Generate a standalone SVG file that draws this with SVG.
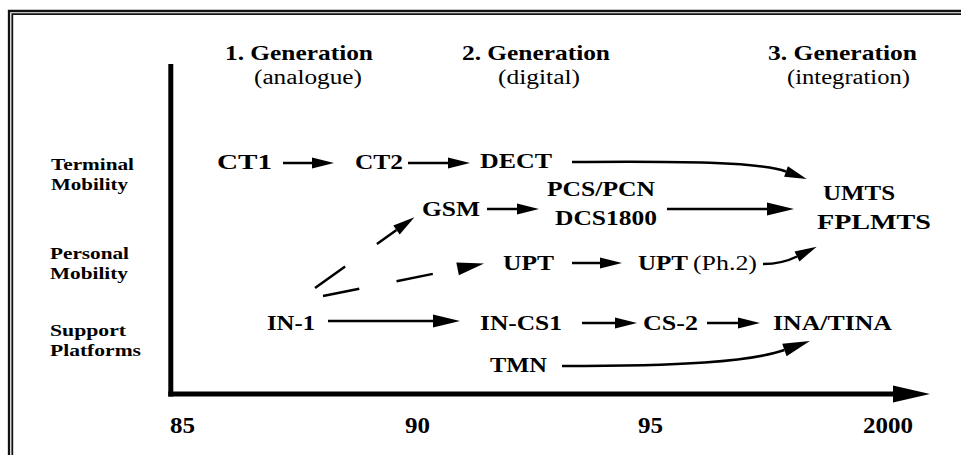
<svg xmlns="http://www.w3.org/2000/svg" width="961" height="455" viewBox="0 0 961 455">
<style>
text{fill:#000;font-family:"Liberation Serif","Times New Roman",serif}
.b{font-weight:bold}
.hd{font-size:22px}
.sub{font-size:20px}
.row{font-size:17.5px;font-weight:bold}
.n{font-size:22px;font-weight:bold}
.yr{font-size:24px;font-weight:bold}
.ln{fill:none;stroke:#000;stroke-width:2.5}
.ds{fill:none;stroke:#000;stroke-width:2.5}
.ax{fill:none;stroke:#000;stroke-width:5}
.fr{fill:none;stroke:#111}
</style>
<defs>
<marker id="a1" markerUnits="userSpaceOnUse" markerWidth="24" markerHeight="12" refX="0" refY="5.5" orient="auto" overflow="visible"><path d="M0,0 L22,5.5 L0,11 z" fill="#000"/></marker>
<marker id="a2" markerUnits="userSpaceOnUse" markerWidth="30" markerHeight="14" refX="0" refY="6.5" orient="auto" overflow="visible"><path d="M0,0 L27,6.5 L0,13 z" fill="#000"/></marker>
<marker id="ax" markerUnits="userSpaceOnUse" markerWidth="40" markerHeight="18" refX="0" refY="8.5" orient="auto" overflow="visible"><path d="M0,0 L37,8.5 L0,17 z" fill="#000"/></marker>
</defs>
<rect width="961" height="455" fill="#fff"/>
<g id="frame">
<path class="fr" d="M9,455 V11 H961" stroke-width="2.3"/>
<path class="fr" d="M12.3,455 V14.2 H961" stroke-width="1.8"/>
</g>
<g id="axes">
<path class="ax" d="M170.8,64 V396.5"/>
<path class="ax" d="M168.3,394 H893" marker-end="url(#ax)"/>
</g>
<g id="headers">
<text class="hd b" x="225" y="60" textLength="148" lengthAdjust="spacingAndGlyphs">1. Generation</text>
<text class="sub" x="254" y="84" textLength="108" lengthAdjust="spacingAndGlyphs">(analogue)</text>
<text class="hd b" x="462" y="60" textLength="148" lengthAdjust="spacingAndGlyphs">2. Generation</text>
<text class="sub" x="498" y="84" textLength="82" lengthAdjust="spacingAndGlyphs">(digital)</text>
<text class="hd b" x="768" y="60" textLength="149" lengthAdjust="spacingAndGlyphs">3. Generation</text>
<text class="sub" x="787" y="84" textLength="123" lengthAdjust="spacingAndGlyphs">(integration)</text>
</g>
<g id="rows">
<text class="row" x="51" y="170" textLength="83" lengthAdjust="spacingAndGlyphs">Terminal</text>
<text class="row" x="51" y="189.5" textLength="77" lengthAdjust="spacingAndGlyphs">Mobility</text>
<text class="row" x="50" y="259" textLength="79" lengthAdjust="spacingAndGlyphs">Personal</text>
<text class="row" x="50" y="278.5" textLength="78" lengthAdjust="spacingAndGlyphs">Mobility</text>
<text class="row" x="50" y="336" textLength="76" lengthAdjust="spacingAndGlyphs">Support</text>
<text class="row" x="50" y="356" textLength="91" lengthAdjust="spacingAndGlyphs">Platforms</text>
</g>
<g id="n-ct1"><text class="n" x="217" y="169" textLength="55" lengthAdjust="spacingAndGlyphs">CT1</text></g>
<g id="n-ct2"><text class="n" x="355" y="169" textLength="48" lengthAdjust="spacingAndGlyphs">CT2</text></g>
<g id="n-dect"><text class="n" x="480" y="168" textLength="72" lengthAdjust="spacingAndGlyphs">DECT</text></g>
<g id="n-gsm"><text class="n" x="422" y="216" textLength="58" lengthAdjust="spacingAndGlyphs">GSM</text></g>
<g id="n-pcs"><text class="n" x="547" y="196" textLength="108" lengthAdjust="spacingAndGlyphs">PCS/PCN</text>
<text class="n" x="555" y="225" textLength="102" lengthAdjust="spacingAndGlyphs">DCS1800</text></g>
<g id="n-umts"><text class="n" x="823" y="200" textLength="72" lengthAdjust="spacingAndGlyphs">UMTS</text>
<text class="n" x="817" y="229" textLength="114" lengthAdjust="spacingAndGlyphs">FPLMTS</text></g>
<g id="n-upt"><text class="n" x="503" y="270" textLength="51" lengthAdjust="spacingAndGlyphs">UPT</text></g>
<g id="n-upt2"><text class="n" x="638" y="270" textLength="50" lengthAdjust="spacingAndGlyphs">UPT</text>
<text class="sub" x="693" y="270" font-size="22" textLength="64" lengthAdjust="spacingAndGlyphs">(Ph.2)</text></g>
<g id="n-in1"><text class="n" x="267" y="330" textLength="48" lengthAdjust="spacingAndGlyphs">IN-1</text></g>
<g id="n-incs1"><text class="n" x="480" y="330" textLength="82" lengthAdjust="spacingAndGlyphs">IN-CS1</text></g>
<g id="n-cs2"><text class="n" x="643" y="330" textLength="55" lengthAdjust="spacingAndGlyphs">CS-2</text></g>
<g id="n-ina"><text class="n" x="773" y="330" textLength="119" lengthAdjust="spacingAndGlyphs">INA/TINA</text></g>
<g id="n-tmn"><text class="n" x="490" y="372" textLength="57" lengthAdjust="spacingAndGlyphs">TMN</text></g>
<g id="years">
<text class="yr" x="170" y="433" textLength="25" lengthAdjust="spacingAndGlyphs">85</text>
<text class="yr" x="405" y="433" textLength="25" lengthAdjust="spacingAndGlyphs">90</text>
<text class="yr" x="638" y="433" textLength="25" lengthAdjust="spacingAndGlyphs">95</text>
<text class="yr" x="863" y="433" textLength="50" lengthAdjust="spacingAndGlyphs">2000</text>
</g>
<g id="connectors">
<path class="ln" d="M283,163 H312" marker-end="url(#a1)"/>
<path class="ln" d="M408,163 H448" marker-end="url(#a1)"/>
<path class="ln" d="M572,162 C680,161 760,162 786,171.5" marker-end="url(#a1)"/>
<path class="ln" d="M487,209 H517" marker-end="url(#a1)"/>
<path class="ln" d="M667,209 H767" marker-end="url(#a2)"/>
<path class="ds" d="M315,288 L396.5,230" stroke-dasharray="37 39" marker-end="url(#a1)"/>
<path class="ds" d="M323,296 L457.6,268.9" stroke-dasharray="37 38" marker-end="url(#a2)"/>
<path class="ln" d="M572,263 H600" marker-end="url(#a1)"/>
<path class="ln" d="M763,264 C778,264 788,261 797,256.5" marker-end="url(#a1)"/>
<path class="ln" d="M328,321 H433" marker-end="url(#a2)"/>
<path class="ln" d="M582,323 H615" marker-end="url(#a1)"/>
<path class="ln" d="M707,323 H738" marker-end="url(#a1)"/>
<path class="ln" d="M562,366 C680,366 750,362 784.4,350" marker-end="url(#a2)"/>
</g>
</svg>
